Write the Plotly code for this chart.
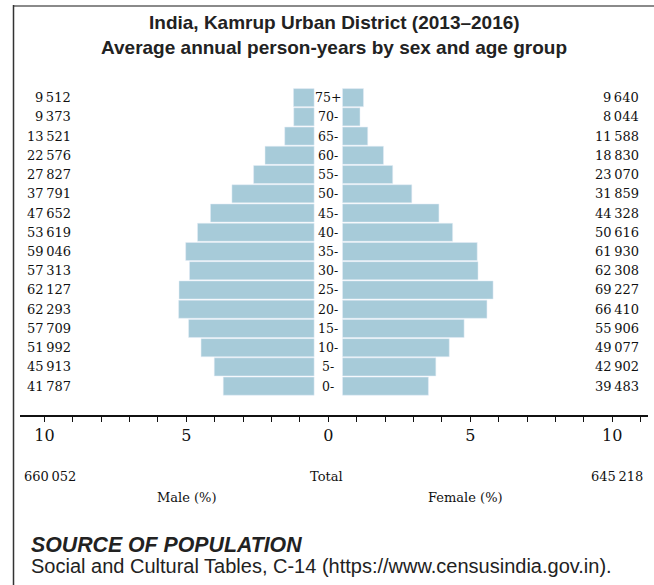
import plotly.graph_objects as go

# age groups, bottom to top
ages = ["0-", "5-", "10-", "15-", "20-", "25-", "30-", "35-", "40-", "45-",
        "50-", "55-", "60-", "65-", "70-", "75+"]
male = [41787, 45913, 51992, 57709, 62293, 62127, 57313, 59046, 53619, 47652,
        37791, 27827, 22576, 13521, 9373, 9512]
female = [39483, 42902, 49077, 55906, 66410, 69227, 62308, 61930, 50616, 44328,
          31859, 23070, 18830, 11588, 8044, 9640]
male_total = 660052
female_total = 645218
tick_vals = [-10, -5, 0, 5, 10]
tick_text = ["10", "5", "0", "5", "10"]

total = male_total + female_total
male_pct = [-v / total * 100 for v in male]
female_pct = [v / total * 100 for v in female]
rows = list(range(len(ages)))
half_gap = 0.5  # space in the middle for the age labels

W, H = 654, 585
L, R, T, B = 20, 6, 88, 170


def px(x):
    return (x - L) / (W - L - R)


def py(y):
    return (H - B - y) / (H - T - B)


def fmt(v):
    return f"{v:,}".replace(",", "\u2009")


serif = "DejaVu Serif"
sans = "Liberation Sans"
bar_color = "#a7cbd9"

fig = go.Figure()
fig.add_trace(go.Bar(y=rows, x=male_pct, base=-half_gap, orientation="h",
                     marker=dict(color=bar_color), width=0.94,
                     hoverinfo="skip"))
fig.add_trace(go.Bar(y=rows, x=female_pct, base=half_gap, orientation="h",
                     marker=dict(color=bar_color), width=0.94,
                     hoverinfo="skip"))

ann = []
for i, a in enumerate(ages):
    ann.append(dict(x=0, y=i, xref="x", yref="y", text=a, showarrow=False,
                    xanchor="center", font=dict(family=serif, size=12.5, color="#111")))
    ann.append(dict(x=px(73), y=i, xref="paper", yref="y", text=fmt(male[i]),
                    showarrow=False, xanchor="right",
                    font=dict(family=serif, size=13, color="#111")))
    ann.append(dict(x=px(641), y=i, xref="paper", yref="y", text=fmt(female[i]),
                    showarrow=False, xanchor="right",
                    font=dict(family=serif, size=13, color="#111")))

ann += [
    dict(x=px(22), y=py(476), text=fmt(male_total), xanchor="left"),
    dict(x=px(326), y=py(476), text="Total", xanchor="center"),
    dict(x=px(645), y=py(476), text=fmt(female_total), xanchor="right"),
    dict(x=px(187), y=py(497), text="Male (%)", xanchor="center"),
    dict(x=px(465), y=py(497), text="Female (%)", xanchor="center"),
]
for a in ann[-5:]:
    a.update(xref="paper", yref="paper", showarrow=False, yanchor="middle",
             font=dict(family=serif, size=13, color="#111"))

ann += [
    dict(x=px(334), y=py(22), text="<b>India, Kamrup Urban District (2013\u20132016)</b>",
         xanchor="center", font=dict(family=sans, size=19, color="#222")),
    dict(x=px(334), y=py(47), text="<b>Average annual person-years by sex and age group</b>",
         xanchor="center", font=dict(family=sans, size=19, color="#222")),
    dict(x=px(29), y=py(545), xanchor="left", text="<b><i>SOURCE OF POPULATION</i></b>",
         font=dict(family=sans, size=21.3, color="#222")),
    dict(x=px(29), y=py(566), xanchor="left",
         text="Social and Cultural Tables, C-14 (https://www.censusindia.gov.in).",
         font=dict(family=sans, size=20, color="#222")),
]
for a in ann[-4:]:
    a.update(xref="paper", yref="paper", showarrow=False, yanchor="middle")

shapes = [
    dict(type="line", xref="paper", yref="paper", x0=px(13), x1=px(654),
         y0=py(6), y1=py(6), line=dict(color="#8a8a8a", width=2), layer="above"),
    dict(type="line", xref="paper", yref="paper", x0=px(13.5), x1=px(13.5),
         y0=py(5), y1=py(585), line=dict(color="#333", width=1.5), layer="above"),
]

fig.update_layout(
    width=W, height=H,
    margin=dict(l=L, r=R, t=T, b=B),
    paper_bgcolor="white", plot_bgcolor="white",
    barmode="overlay", showlegend=False,
    annotations=ann, shapes=shapes,
    xaxis=dict(range=[-10.86, 11.26], tickvals=tick_vals, ticktext=tick_text,
               ticks="outside", ticklen=5, tickcolor="#111", tickwidth=1,
               showline=True, linecolor="#111", linewidth=1.5,
               showgrid=False, zeroline=False, fixedrange=True,
               tickfont=dict(family=serif, size=16, color="#111"),
               minor=dict(dtick=1, tick0=0, ticks="outside", ticklen=5,
                          tickcolor="#111", tickwidth=1, showgrid=False)),
    yaxis=dict(range=[-1.5, 15.5], visible=False, fixedrange=True),
)

fig.write_html("out.html", config={"displayModeBar": False},
               post_script="document.body.style.margin='0';")
